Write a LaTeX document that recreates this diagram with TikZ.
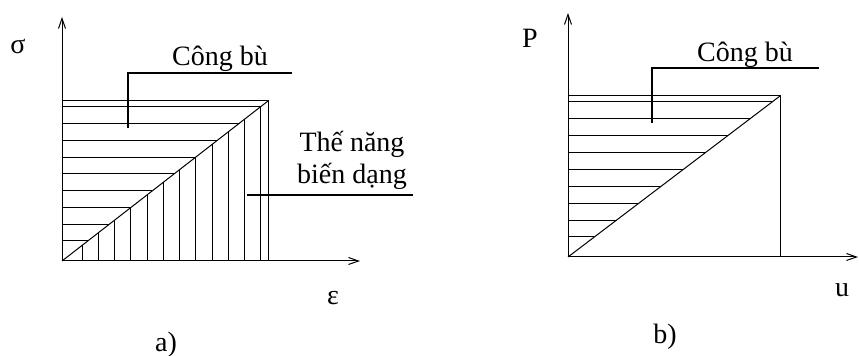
\documentclass[tikz,border=0pt]{standalone}
\usepackage{fontspec}
\setmainfont{Liberation Serif}
\usetikzlibrary{
	arrows.meta,
	calc
}

\begin{document}
\begin{tikzpicture}[x=0.5pt, y=-0.5pt, line width=0.5pt,
		lbl/.style={font=\fontsize{14}{16}\selectfont, inner sep=0pt},
		leader/.style={line width=1pt},
		axis/.style={-{Straight Barb[length=5pt,width=3.5pt]}}]
		\useasboundingbox (0,0) rectangle (859,356);
		
		% --- a) ---
		\coordinate (Oa) at (62,261);
		\coordinate (Ya) at (62,17);
		\coordinate (Xa) at (360,261);
		\coordinate (Ta) at (268,101); % end of the line
		\draw[axis] (Oa) -- (Ya);
		\draw[axis] (Oa) -- (Xa);
		\draw (Oa) -- (Ta);
		\draw (62,101) -- (Ta) -- (268,261);
		\foreach \k in {0,...,8} {
			\pgfmathsetmacro\yy{241-16.75*\k}
			\pgfmathsetmacro\xx{62+(261-\yy)/160*206}
			\draw (62,\yy) -- (\xx,\yy);
		}
		\foreach \k in {0,...,11} {
			\pgfmathsetmacro\xx{82+16.27*\k}
			\pgfmathsetmacro\yy{261-(\xx-62)/206*160}
			\draw (\xx,261) -- (\xx,\yy);
		}
		\draw[leader] (292,73) -- (128,73) -- (128,128);
		\draw[leader] (247,195) -- (413,195);
		
		\node[lbl] (sigma) at (18,46) {σ};
		\node[lbl] (eps) at (333,298) {ε};
		\node[lbl, anchor=base] (cbA) at (220,66) {Công bù};
		\node[lbl, anchor=base] (tn1) at (352,152) {Thế năng};
		\node[lbl, anchor=base] (tn2) at (352,184) {biến dạng};
		\node[lbl] (capA) at (166,345) {a)};
		
		% --- b) ---
		\coordinate (Ob) at (568,257);
		\coordinate (Yb) at (568,13);
		\coordinate (Xb) at (858,257);
		\coordinate (Tb) at (780,96); % end of the line
		\draw[axis] (Ob) -- (Yb);
		\draw[axis] (Ob) -- (Xb);
		\draw (Ob) -- (Tb);
		\draw (568,96) -- (Tb) -- (780,257);
		\foreach \k in {0,...,8} {
			\pgfmathsetmacro\yy{237-16.875*\k}
			\pgfmathsetmacro\xx{568+(257-\yy)/161*212}
			\draw (568,\yy) -- (\xx,\yy);
		}
		\draw[leader] (819,68) -- (652,68) -- (652,123);
		
		\node[lbl] (P) at (530,38) {P};
		\node[lbl] (u) at (842,290) {u};
		\node[lbl, anchor=base] (cbB) at (745,62) {Công bù};
		\node[lbl] (capB) at (665,337) {b)};
	\end{tikzpicture}
\end{document}
